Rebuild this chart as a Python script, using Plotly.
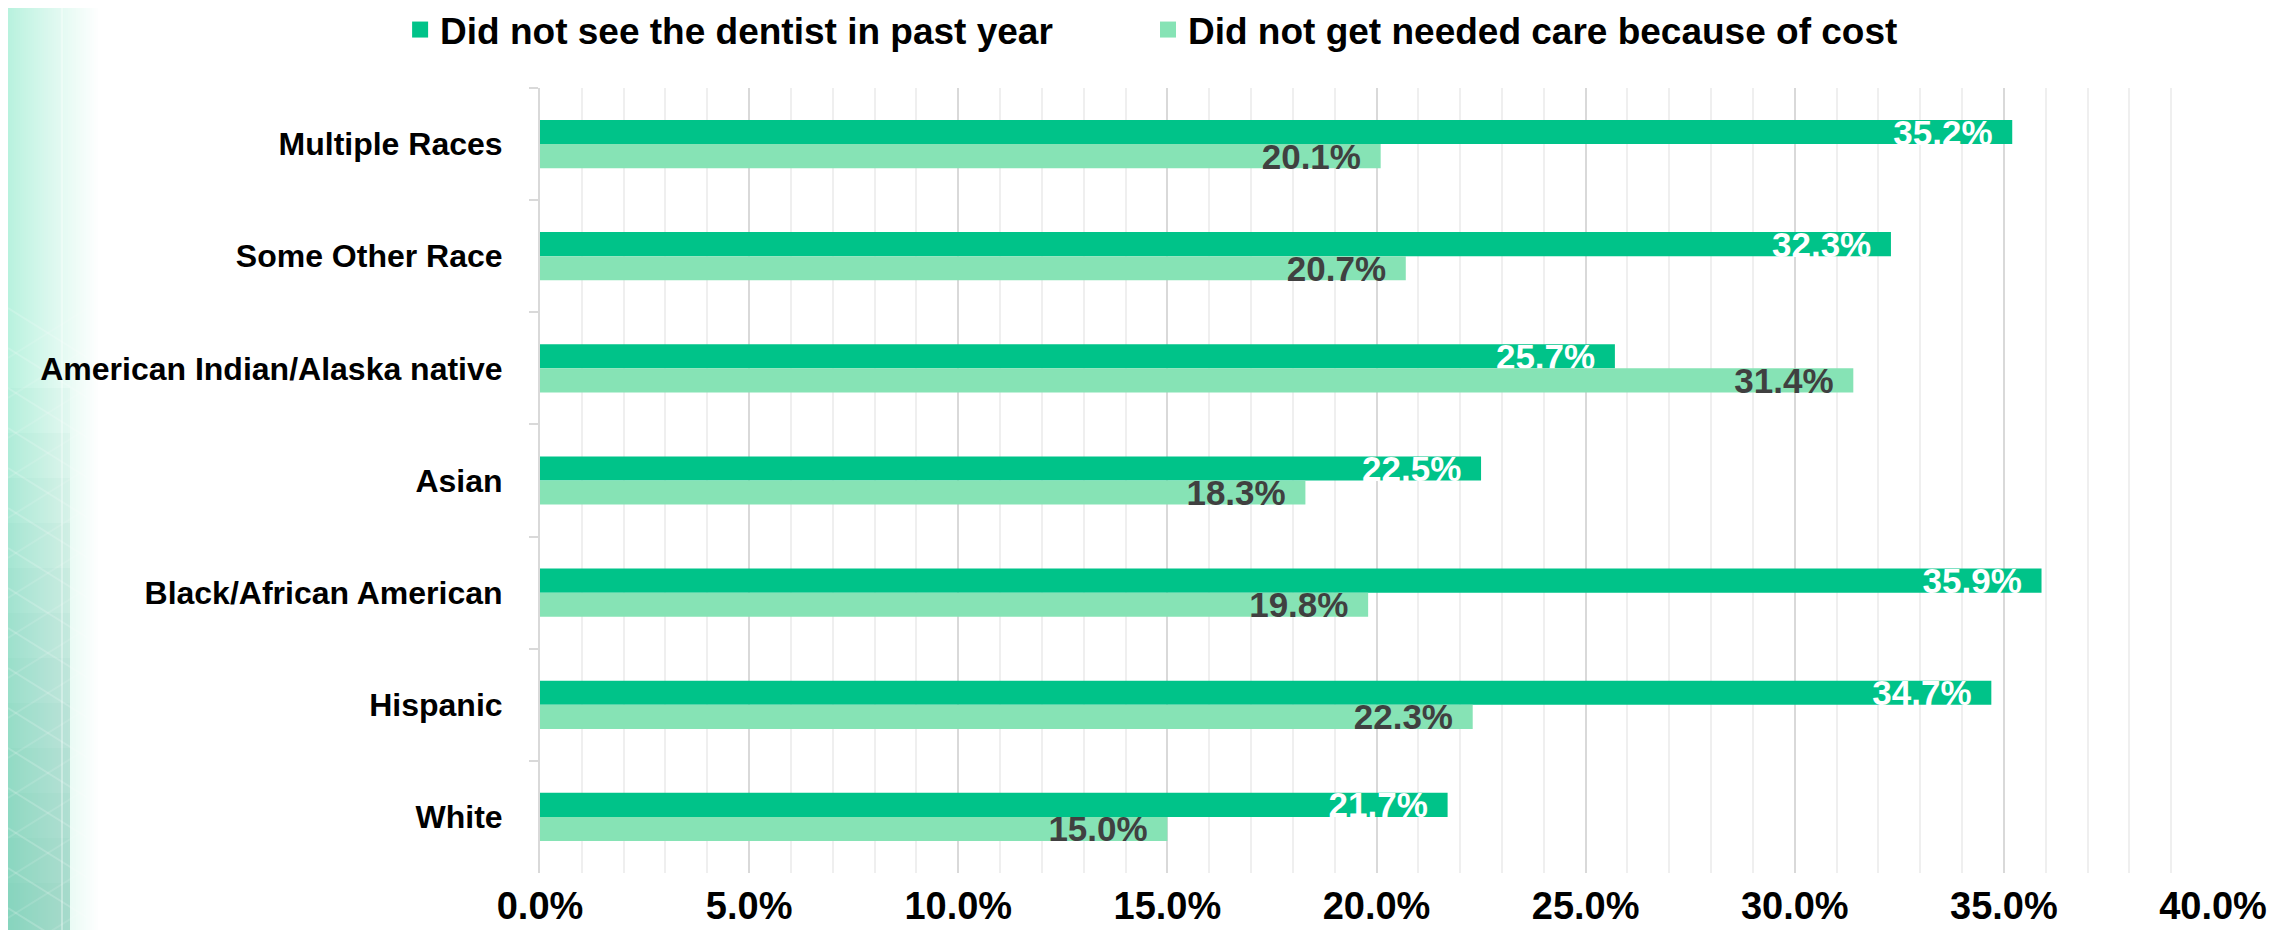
import plotly.graph_objects as go

categories = ["Multiple Races", "Some Other Race", "American Indian/Alaska native",
              "Asian", "Black/African American", "Hispanic", "White"]
no_dentist = [35.2, 32.3, 25.7, 22.5, 35.9, 34.7, 21.7]
cost_barrier = [20.1, 20.7, 31.4, 18.3, 19.8, 22.3, 15.0]
series_names = ["Did not see the dentist in past year",
                "Did not get needed care because of cost"]
x_ticks = [0, 5, 10, 15, 20, 25, 30, 35, 40]

W, H = 2285, 930
ML, MR, MT, MB = 532, 80, 80, 65
PW, PH = W - ML - MR, H - MT - MB

DARK = "#00C389"
LIGHT = "#86E3B5"
FONT = "Liberation Sans"
PAD = "\u00a0\u2009"

fig = go.Figure()
fig.add_trace(go.Bar(
    y=categories, x=no_dentist, name=series_names[0], orientation="h",
    marker=dict(color=DARK, line=dict(width=0)), showlegend=False,
    texttemplate="%{x:.1f}%" + PAD, textposition="inside", insidetextanchor="end",
    textangle=0, constraintext="none", cliponaxis=False,
    textfont=dict(family=FONT, size=35, color="white", weight="bold"),
))
fig.add_trace(go.Bar(
    y=categories, x=cost_barrier, name=series_names[1], orientation="h",
    marker=dict(color=LIGHT, line=dict(width=0)), showlegend=False,
    texttemplate="%{x:.1f}%" + PAD, textposition="inside", insidetextanchor="end",
    textangle=0, constraintext="none", cliponaxis=False,
    textfont=dict(family=FONT, size=35, color="#404040", weight="bold"),
))
# legend entries with larger square swatches, one legend per entry
for name, col, lg in zip(series_names, [DARK, LIGHT], ["legend", "legend2"]):
    fig.add_trace(go.Scatter(
        x=[None], y=[None], mode="markers", name=name, legend=lg,
        marker=dict(symbol="square", size=22, color=col, line=dict(width=0)),
        showlegend=True, hoverinfo="skip",
    ))

# left decorative gradient panel
def px_to_paper_x(p):
    return (p - ML) / PW

def px_to_paper_y(p_top):
    return (H - p_top - MB) / PH

shapes = []
n = 46
for i in range(n):
    x0 = i * 2
    t = (i / (n - 1)) ** 0.9
    r = int(184 + (255 - 184) * t)
    g = int(242 + (255 - 242) * t)
    b = int(222 + (255 - 222) * t)
    shapes.append(dict(type="rect", xref="paper", yref="paper",
                       x0=px_to_paper_x(x0), x1=px_to_paper_x(x0 + 2.2),
                       y0=px_to_paper_y(H), y1=px_to_paper_y(0),
                       fillcolor=f"rgb({r},{g},{b})", line=dict(width=0), layer="below"))
# darker lower part
for j in range(12):
    y_top = 380 + j * 45
    shapes.append(dict(type="rect", xref="paper", yref="paper",
                       x0=px_to_paper_x(0), x1=px_to_paper_x(62),
                       y0=px_to_paper_y(H), y1=px_to_paper_y(y_top),
                       fillcolor="rgba(60,170,140,0.035)", line=dict(width=0), layer="below"))
# faint diagonal stripes
for k in range(16):
    yy = 300 + k * 40
    shapes.append(dict(type="line", xref="paper", yref="paper",
                       x0=px_to_paper_x(0), x1=px_to_paper_x(80),
                       y0=px_to_paper_y(yy), y1=px_to_paper_y(yy + 50),
                       line=dict(color="rgba(255,255,255,0.18)", width=2), layer="below"))
    shapes.append(dict(type="line", xref="paper", yref="paper",
                       x0=px_to_paper_x(0), x1=px_to_paper_x(80),
                       y0=px_to_paper_y(yy + 50), y1=px_to_paper_y(yy),
                       line=dict(color="rgba(255,255,255,0.12)", width=2), layer="below"))
shapes.append(dict(type="line", xref="paper", yref="paper",
                   x0=px_to_paper_x(54), x1=px_to_paper_x(54),
                   y0=px_to_paper_y(H), y1=px_to_paper_y(0),
                   line=dict(color="rgba(255,255,255,0.35)", width=2), layer="below"))

legend_font = dict(family=FONT, size=37, color="black", weight="bold")
legend_y = 1 - 22 / H
fig.update_layout(
    width=W, height=H,
    margin=dict(l=ML, r=MR, t=MT, b=MB, autoexpand=False),
    paper_bgcolor="white", plot_bgcolor="white",
    barmode="group", bargap=0.57, bargroupgap=0,
    font=dict(family=FONT, color="black"),
    shapes=shapes,
    legend=dict(orientation="h", xref="container", yref="container",
                x=0.1716, y=legend_y, xanchor="left", yanchor="middle",
                font=legend_font, itemsizing="trace", itemwidth=30,
                bgcolor="rgba(0,0,0,0)"),
    legend2=dict(orientation="h", xref="container", yref="container",
                 x=0.4989, y=legend_y, xanchor="left", yanchor="middle",
                 font=legend_font, itemsizing="trace", itemwidth=30,
                 bgcolor="rgba(0,0,0,0)"),
    xaxis=dict(range=[0, 40], tickvals=x_ticks, ticktext=[f"{v:.1f}%" for v in x_ticks],
               showgrid=True, gridcolor="#D9D9D9", gridwidth=1.5,
               minor=dict(dtick=1, showgrid=True, gridcolor="#EFEFEF", gridwidth=1.5),
               zeroline=False, showline=False, ticks="", automargin=False,
               tickfont=dict(family=FONT, size=38, color="black", weight="bold"),
               ticklabelstandoff=7, fixedrange=True),
    yaxis=dict(categoryorder="array", categoryarray=categories, autorange="reversed",
               showline=True, linecolor="#D9D9D9", linewidth=2, automargin=False,
               ticks="outside", tickson="boundaries", ticklen=9, tickcolor="#D9D9D9", tickwidth=2,
               showgrid=False, zeroline=False,
               tickfont=dict(family=FONT, size=32, color="black", weight="bold"),
               ticklabelstandoff=29, fixedrange=True),
    showlegend=True,
)

fig.write_html("out.html")
